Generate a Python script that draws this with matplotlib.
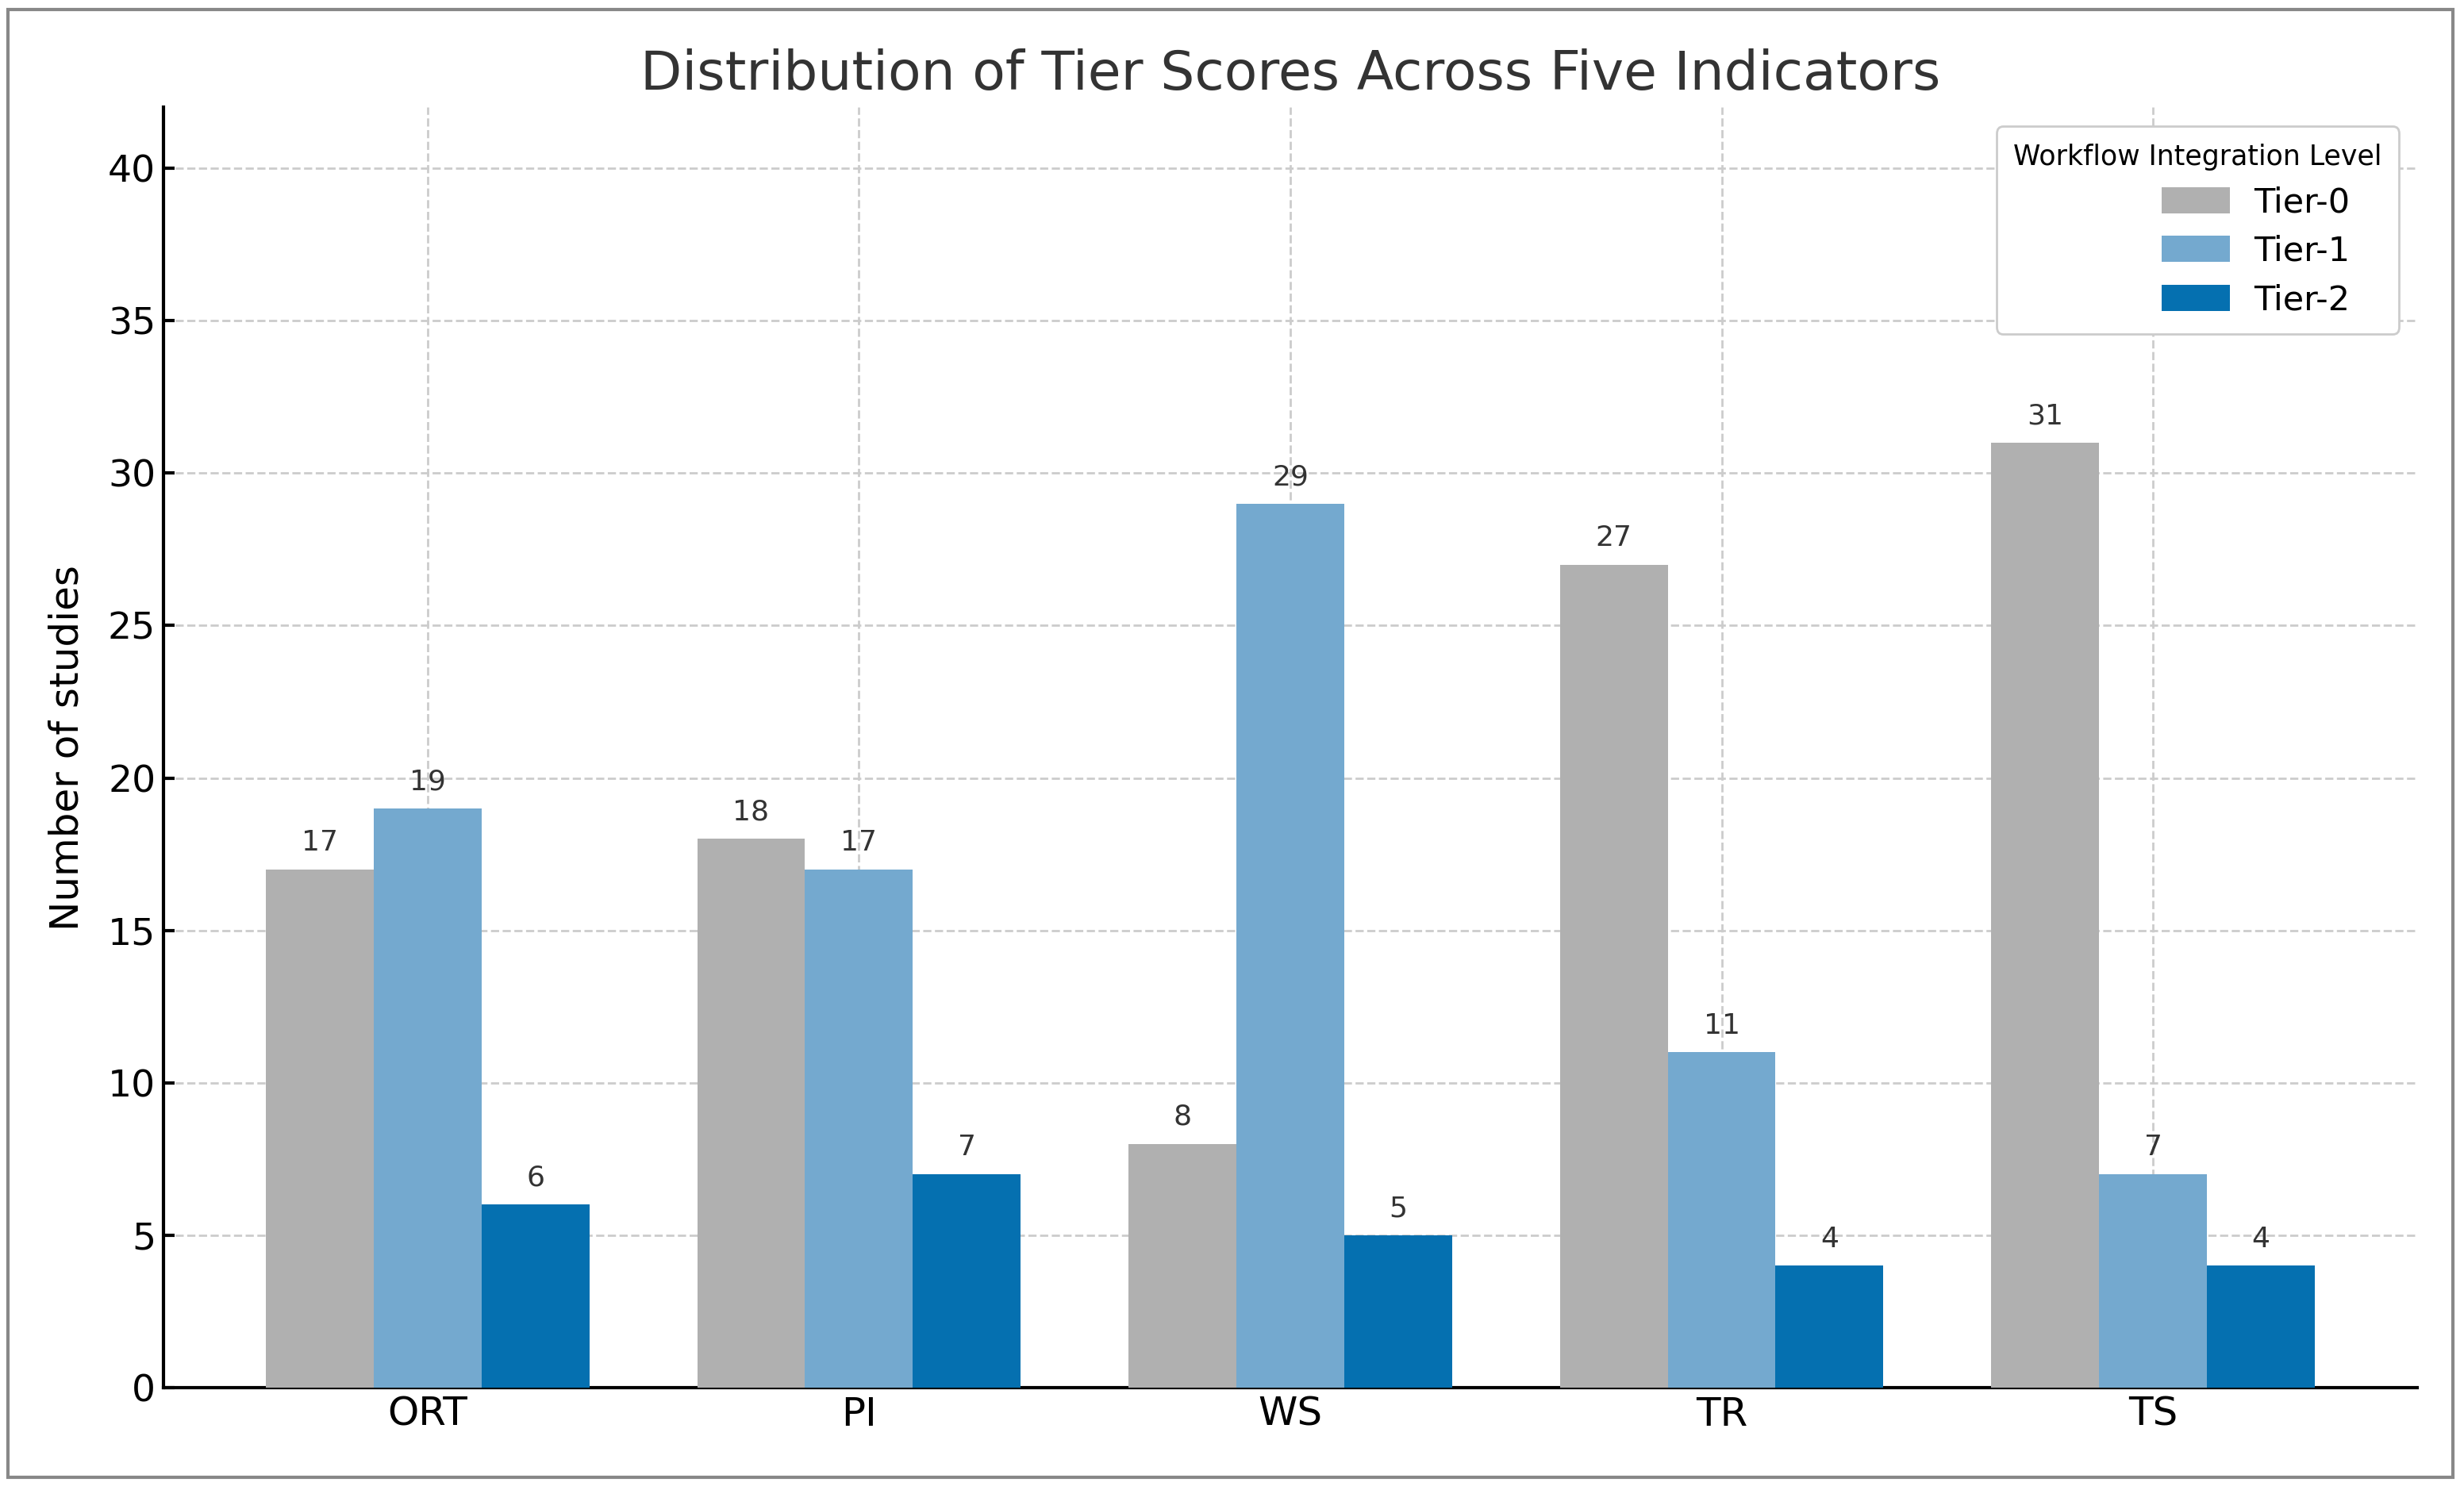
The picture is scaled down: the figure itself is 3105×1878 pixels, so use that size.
import matplotlib.pyplot as plt
import numpy as np
from matplotlib.patches import Rectangle

indicators = ["ORT", "PI", "WS", "TR", "TS"]
tier_names = ["Tier-0", "Tier-1", "Tier-2"]
tier0 = [17, 18, 8, 27, 31]
tier1 = [19, 17, 29, 11, 7]
tier2 = [6, 7, 5, 4, 4]
colors = ["#b0b0b0", "#74a9cf", "#0570b0"]

fig = plt.figure(figsize=(15.525, 9.39), dpi=200)
ax = fig.add_axes([0.0663, 0.0687, 0.9147, 0.8593])

x = np.arange(len(indicators))
w = 0.25
for i, vals in enumerate([tier0, tier1, tier2]):
    # trailing spaces keep the legend entries off the right edge, as in the original
    bars = ax.bar(x + (i - 1) * w, vals, w, color=colors[i],
                  label=tier_names[i] + "   ", zorder=3)
    ax.bar_label(bars, padding=6, fontsize=13, color="#333333")

ax.set_xticks(x)
ax.set_xticklabels(indicators, fontsize=18)
ax.set_yticks(range(0, 41, 5))
ax.tick_params(axis="y", labelsize=17, direction="in", length=5, width=1.5)
ax.tick_params(axis="x", direction="in", length=5, width=1.5)
ax.set_ylim(0, 42)
ax.set_ylabel("Number of studies", fontsize=18, labelpad=10)
ax.set_title("Distribution of Tier Scores Across Five Indicators", fontsize=24.5,
             color="#333333", pad=8)
ax.grid(True, linestyle="--", color="#cccccc", linewidth=1, zorder=0)
for s in ["top", "right"]:
    ax.spines[s].set_visible(False)
for s in ["left", "bottom"]:
    ax.spines[s].set_linewidth(1.5)

leg = ax.legend(title="Workflow Integration Level", fontsize=15.5, title_fontsize=12.5,
                loc="upper right", bbox_to_anchor=(0.992, 0.985), borderaxespad=0,
                handlelength=2.0, handleheight=0.8, handletextpad=0.7,
                borderpad=0.5, labelspacing=0.45,
                framealpha=1, edgecolor="#cccccc")
leg._legend_box.align = "right"

fig.patches.append(Rectangle((0.0032, 0.0085), 0.9923, 0.9851, transform=fig.transFigure,
                             fill=False, edgecolor="#888888", linewidth=1.5))

fig.savefig("out.png")
